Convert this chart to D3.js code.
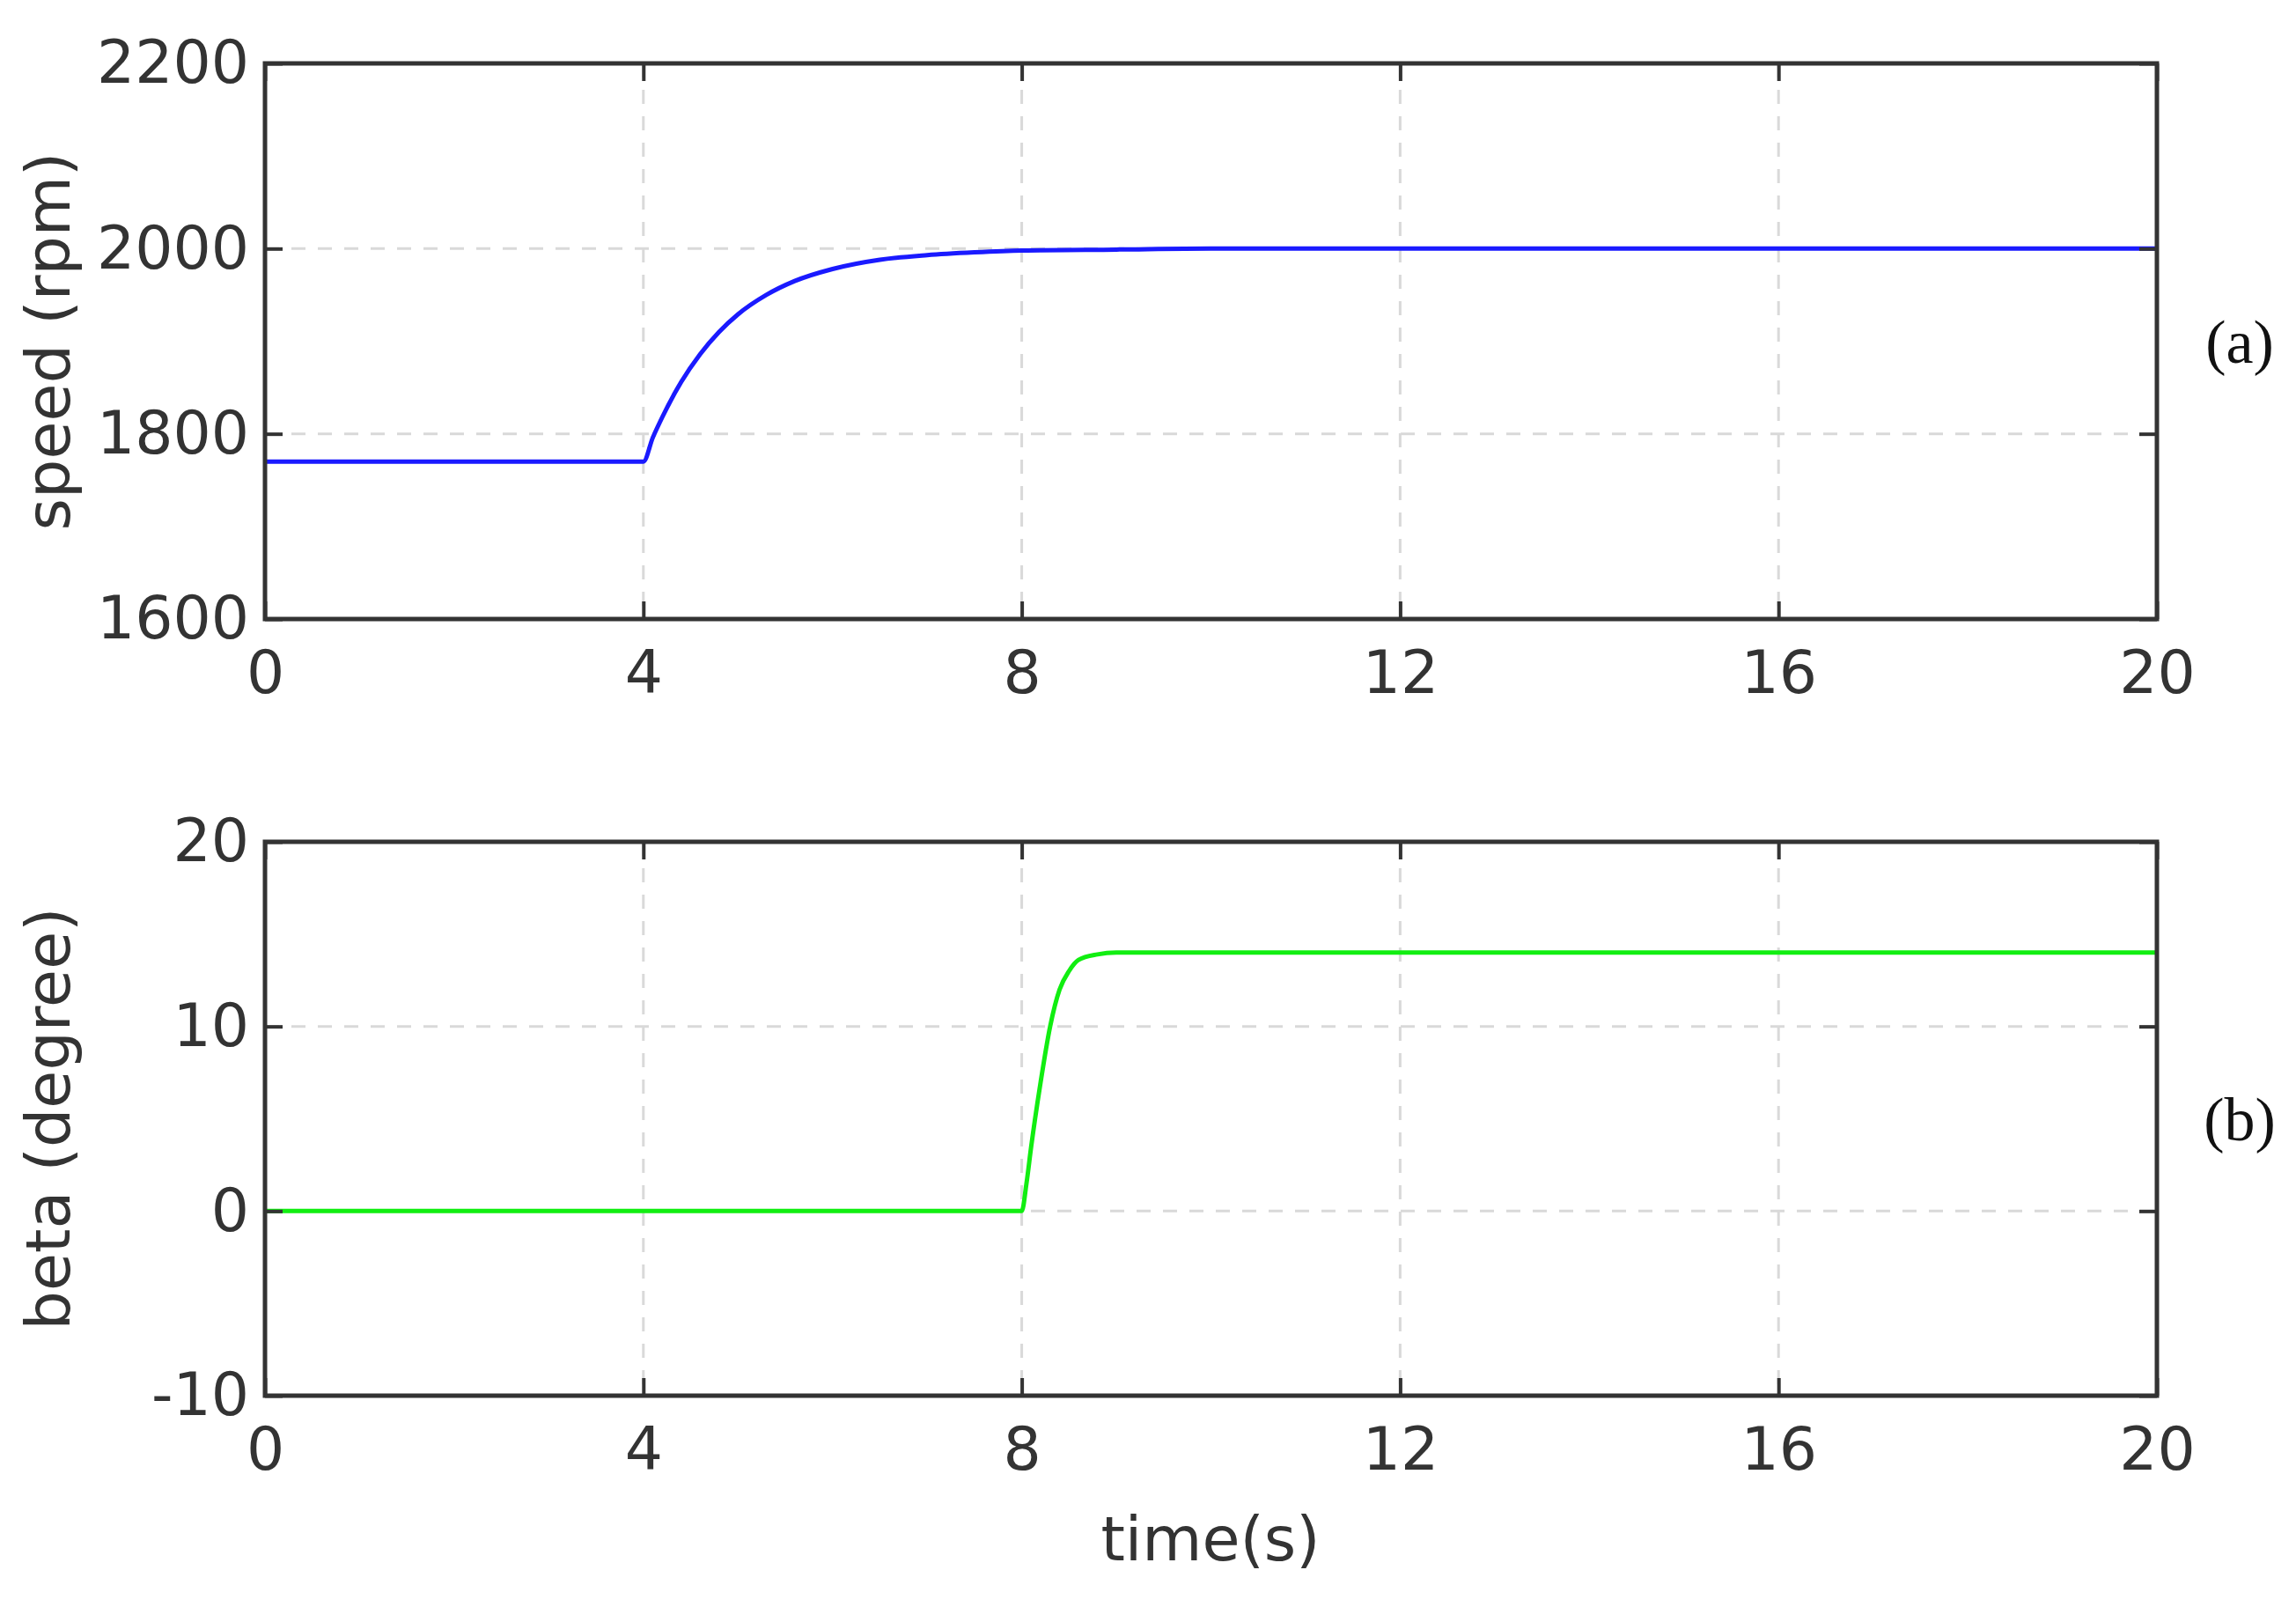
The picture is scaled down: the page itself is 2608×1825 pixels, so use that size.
<!DOCTYPE html>
<html><head><meta charset="utf-8">
<script src="https://cdn.jsdelivr.net/npm/d3@7"></script>
<style>body{margin:0;background:#fff}</style>
</head><body><svg></svg>
<script>
// speed response (a)
const speedTime = [0, 4, 4.1, 4.2, 4.4, 4.6, 4.8, 5, 5.3, 5.6, 6, 6.5, 7, 7.5, 8, 9, 10, 20]
const speedRpm = [1770, 1770, 1796, 1818, 1856, 1886, 1910, 1929, 1950, 1965, 1978, 1988, 1993, 1996, 1998, 1999, 2000, 2000]
// pitch angle (b)
const betaTime = [0, 8, 8.05, 8.1, 8.2, 8.3, 8.4, 8.5, 8.6, 8.8, 9, 20]
const betaDeg = [0, 0, 1.5, 3.5, 7, 10, 12, 13, 13.6, 13.9, 14, 14]

const xTicks = [0, 4, 8, 12, 16, 20]
const speedTicks = [1600, 1800, 2000, 2200]
const betaTicks = [-10, 0, 10, 20]

const W = 2608, H = 1825
const LEFT = 301, RIGHT = 2450
const svg = d3.select('svg').attr('width', W).attr('height', H)
const FONT = 'Verdana, "DejaVu Sans", sans-serif'

const x = d3.scaleLinear().domain([0, 20]).range([LEFT, RIGHT])

function panel(top, bottom, yDomain, yTicks, times, vals, color, title, tag) {
    const y = d3.scaleLinear().domain(yDomain).range([bottom, top])
    const g = svg.append('g')

    // grid
    g.selectAll('.vg').data(xTicks.slice(1, -1)).enter().append('line')
        .attr('x1', d => x(d)).attr('x2', d => x(d)).attr('y1', top).attr('y2', bottom)
        .attr('stroke', '#d9d9d9').attr('stroke-width', 3).attr('stroke-dasharray', '16,14')
    g.selectAll('.hg').data(yTicks.slice(1, -1)).enter().append('line')
        .attr('y1', d => y(d)).attr('y2', d => y(d)).attr('x1', LEFT).attr('x2', RIGHT)
        .attr('stroke', '#d9d9d9').attr('stroke-width', 3).attr('stroke-dasharray', '16,14')

    // data line
    const pts = times.map((t, i) => [t, vals[i]])
    g.append('path').datum(pts)
        .attr('d', d3.line().x(d => x(d[0])).y(d => y(d[1])).curve(d3.curveMonotoneX))
        .attr('fill', 'none').attr('stroke', color).attr('stroke-width', 5)

    // axes, ticks inward
    const ax = (gen, tr) => g.append('g').attr('transform', tr).call(gen)
        .call(s => { s.select('.domain').remove(); s.selectAll('line').attr('stroke', '#333').attr('stroke-width', 4) })
    ax(d3.axisBottom(x).tickValues(xTicks).tickSize(-20).tickPadding(36).tickFormat(d => String(d)), `translate(0,${bottom})`)
        .selectAll('text').attr('font-size', 68).attr('font-family', FONT).attr('fill', '#333')
    ax(d3.axisTop(x).tickValues(xTicks).tickSize(-20).tickFormat(''), `translate(0,${top})`)
    ax(d3.axisLeft(y).tickValues(yTicks).tickSize(-20).tickPadding(18).tickFormat(d => String(d)), `translate(${LEFT},0)`)
        .selectAll('text').attr('font-size', 68).attr('font-family', FONT).attr('fill', '#333')
    ax(d3.axisRight(y).tickValues(yTicks).tickSize(-20).tickFormat(''), `translate(${RIGHT},0)`)

    g.append('rect').attr('x', LEFT).attr('y', top).attr('width', RIGHT - LEFT).attr('height', bottom - top)
        .attr('fill', 'none').attr('stroke', '#333').attr('stroke-width', 5)

    g.append('text').attr('transform', `translate(60,${(top + bottom) / 2}) rotate(-90)`)
        .attr('text-anchor', 'middle').attr('dominant-baseline', 'middle')
        .attr('font-size', 70).attr('font-family', FONT).attr('fill', '#333').text(title)
    g.append('text').attr('x', 2544).attr('y', (top + bottom) / 2 + 24)
        .attr('text-anchor', 'middle').attr('font-size', 70).attr('font-family', '"Liberation Serif", serif')
        .attr('fill', '#111').text(tag)
}

panel(72, 703, [1600, 2200], speedTicks, speedTime, speedRpm, '#1a1aff', 'speed (rpm)', '(a)')
panel(956, 1585, [-10, 20], betaTicks, betaTime, betaDeg, '#11ee11', 'beta (degree)', '(b)')

svg.append('text').attr('x', 1375).attr('y', 1772).attr('text-anchor', 'middle')
    .attr('font-size', 70).attr('font-family', FONT).attr('fill', '#333').text('time(s)')
</script>
</body></html>
